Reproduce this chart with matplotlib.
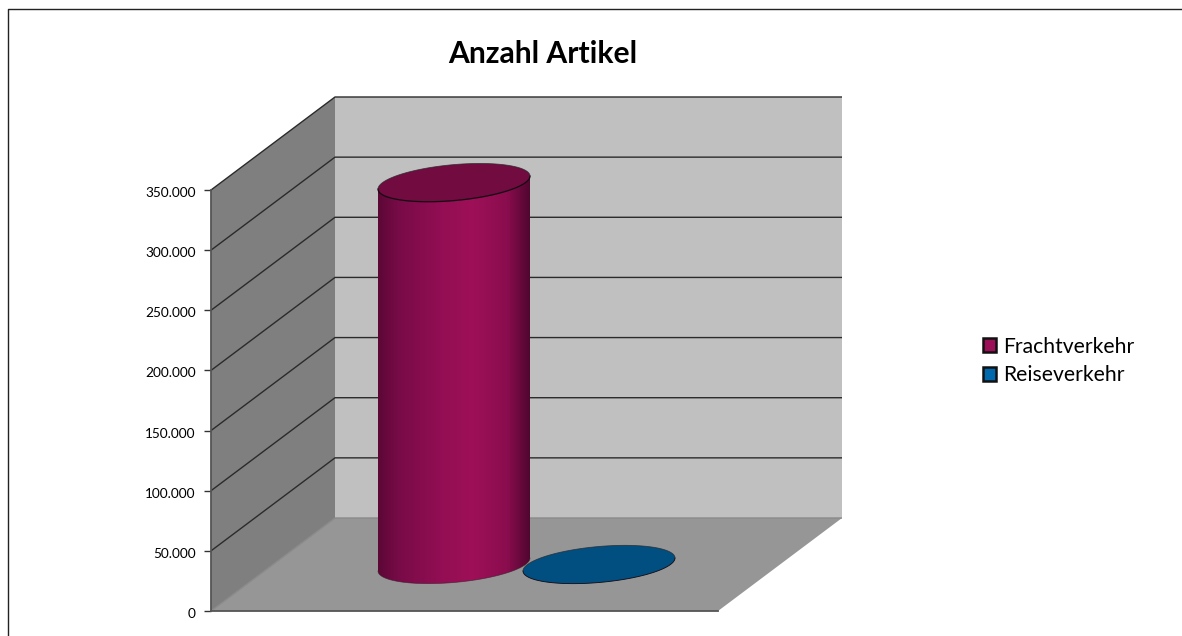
"""Anzahl Artikel: pseudo 3D cylinder chart, drawn on a flat axes with a depth offset."""
import matplotlib

matplotlib.use("Agg")
import matplotlib.pyplot as plt
import numpy as np
from matplotlib.colors import LinearSegmentedColormap
from matplotlib.lines import Line2D
from matplotlib.patches import Patch, PathPatch, Polygon
from matplotlib.path import Path
from matplotlib.transforms import ScaledTranslation

series_names = ["Frachtverkehr", "Reiseverkehr"]
series_values = [317500, 0]
y_ticks = [0, 50000, 100000, 150000, 200000, 250000, 300000, 350000]

FIG_W, FIG_H = 1182, 636
AX_LEFT, AX_RIGHT, AX_TOP, AX_BOTTOM = 211, 718, 190, 611
Y_MAX = 350000

plt.rcParams["font.family"] = ["Lato", "DejaVu Sans"]

fig = plt.figure(figsize=(FIG_W / 100, FIG_H / 100), dpi=100, facecolor="white")
ax = fig.add_axes([
    AX_LEFT / FIG_W,
    1 - AX_BOTTOM / FIG_H,
    (AX_RIGHT - AX_LEFT) / FIG_W,
    (AX_BOTTOM - AX_TOP) / FIG_H,
])
ax.set_xlim(-0.5, 0.5)
ax.set_ylim(0, Y_MAX)
ax.patch.set_visible(False)

# pixel sizes to data units
ux = 1 / (AX_RIGHT - AX_LEFT)
uy = Y_MAX / (AX_BOTTOM - AX_TOP)
depth_x = 124 * ux
depth_y = 93 * uy
x0, x1 = -0.5, 0.5

left_wall = [(x0, 0), (x0 + depth_x, depth_y), (x0 + depth_x, Y_MAX + depth_y), (x0, Y_MAX)]
back_wall = [(x0 + depth_x, depth_y), (x1 + depth_x, depth_y),
             (x1 + depth_x, Y_MAX + depth_y), (x0 + depth_x, Y_MAX + depth_y)]
floor = [(x0, 0), (x1, 0), (x1 + depth_x, depth_y), (x0 + depth_x, depth_y)]
ax.add_patch(Polygon(left_wall, fc="#7f7f7f", ec="none", clip_on=False, zorder=1))
ax.add_patch(Polygon(back_wall, fc="#c0c0c0", ec="none", clip_on=False, zorder=1))
ax.add_patch(Polygon(floor, fc="#969696", ec="none", clip_on=False, zorder=1))

for v in y_ticks:
    color = "#8a8a8a" if v == 0 else "#2b2b2b"
    ax.plot([x0, x0 + depth_x, x1 + depth_x], [v, v + depth_y, v + depth_y],
            color=color, lw=1.0, clip_on=False, zorder=2, solid_capstyle="butt")

# cylinders sit half way into the depth, clustered around the category centre
bar_w = 145 * ux
rx = 76 * ux
ry_cos = 6.5 * uy
ry_sin = 18 * uy
centres = [-bar_w / 2, bar_w / 2]
t = np.linspace(0, 2 * np.pi, 181)
t_low = np.linspace(np.pi, 2 * np.pi, 91)
t_up = np.linspace(0, np.pi, 91)


def ellipse(cx, cy, tt):
    return cx + rx * np.cos(tt), cy + ry_cos * np.cos(tt) + ry_sin * np.sin(tt)


side_cmap = LinearSegmentedColormap.from_list(
    "side",
    [(0, "#5c0736"), (0.13, "#770b47"), (0.42, "#930e54"), (0.62, "#9e1058"),
     (0.85, "#8a0d4e"), (1, "#50062f")],
)
top_colors = ["#720b3f", "#004f80"]
legend_colors = ["#9c1058", "#0068ac"]

for name, value, centre, top_color in zip(series_names, series_values, centres, top_colors):
    cx = centre + depth_x / 2
    base = depth_y / 2
    top = base + value
    if value > 0:
        bx, by = ellipse(cx, base, t_low)
        tx, ty = ellipse(cx, top, t_low[::-1])
        body = Path(np.column_stack([np.r_[bx, tx], np.r_[by, ty]]))
        im = ax.imshow(
            np.linspace(0, 1, 256)[None, :], cmap=side_cmap, aspect="auto",
            extent=(cx - rx, cx + rx, base - ry_sin * 2, top + ry_sin * 2),
            zorder=3,
        )
        patch = PathPatch(body, fc="none", ec="none", transform=ax.transData, clip_on=False)
        ax.add_patch(patch)
        im.set_clip_path(patch)
        # the image is clipped to the axes box unless told otherwise
        im.set_clip_box(fig.bbox)
        ax.plot(bx, by, color="#3a1a2a", lw=0.5, alpha=0.7, clip_on=False, zorder=3.1)
    ex, ey = ellipse(cx, top, t)
    ax.fill(ex, ey, fc=top_color, ec="none", clip_on=False, zorder=4)
    lx, ly = ellipse(cx, top, t_low)
    low_lw = 0.9 if value > 0 else 0.6
    ax.plot(lx, ly, color="#120812", lw=low_lw, clip_on=False, zorder=4.1)
    ux_, uy_ = ellipse(cx, top, t_up)
    ax.plot(ux_, uy_, color="#2a2a30", lw=0.6, alpha=0.8, clip_on=False, zorder=4.1)

# imshow resets the limits
ax.set_xlim(-0.5, 0.5)
ax.set_ylim(0, Y_MAX)

ax.set_yticks(y_ticks)
ax.set_yticklabels([f"{v:,}".replace(",", ".") for v in y_ticks], fontsize=9.8, color="black")
ax.set_xticks([])
ax.tick_params(axis="y", length=5, width=1.0, color="#333333", pad=6)
label_shift = ScaledTranslation(0, -2 / 100, fig.dpi_scale_trans)
for label in ax.get_yticklabels():
    label.set_transform(label.get_transform() + label_shift)
for side in ("top", "right"):
    ax.spines[side].set_visible(False)
for side in ("left", "bottom"):
    ax.spines[side].set_color("#555555")
    ax.spines[side].set_linewidth(1.3)
    ax.spines[side].set_zorder(2.5)

fig.text(543 / FIG_W, 1 - 54 / FIG_H, "Anzahl Artikel", fontsize=21.6, fontweight="bold",
         ha="center", va="center", color="black")

handles = [Patch(fc=c, ec="#111111", lw=1.8) for c in legend_colors]
fig.legend(handles, series_names, loc="center left",
           bbox_to_anchor=(977 / FIG_W, 1 - 361 / FIG_H), frameon=False, fontsize=15.2,
           handlelength=0.62, handleheight=0.62, handletextpad=0.3, labelspacing=0.42,
           borderpad=0.3, borderaxespad=0)

# chart frame, only the left and top edges fall inside the picture
frame_x = [8 / FIG_W, 8 / FIG_W, 1]
frame_y = [0, 1 - 9 / FIG_H, 1 - 9 / FIG_H]
fig.add_artist(Line2D(frame_x, frame_y, color="#222222", lw=1.0))

fig.savefig("out.png", dpi=100, facecolor="white")
